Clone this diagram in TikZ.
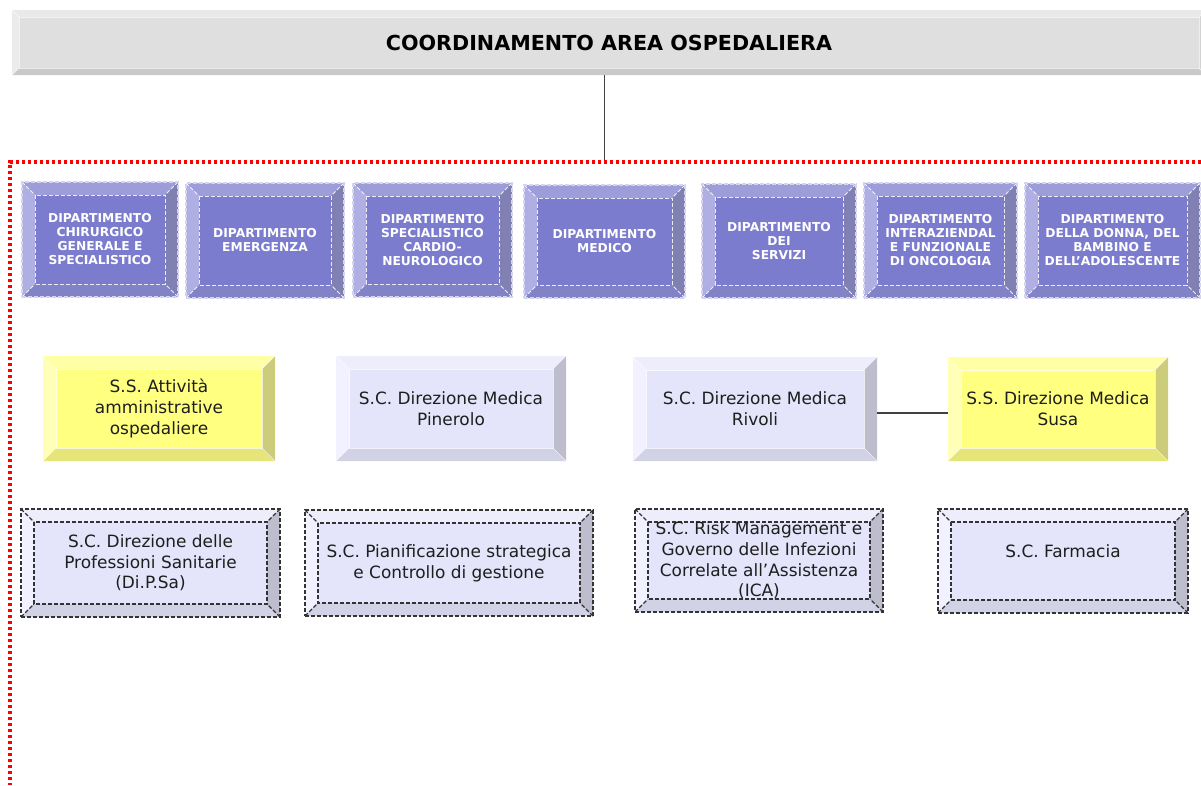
\documentclass[tikz,border=0pt]{standalone}
\usepackage{fontspec}
\setmainfont{DejaVu Sans}
\usetikzlibrary{calc}
\definecolor{tcen}{HTML}{DFDFDF}
\definecolor{ttop}{HTML}{E9E9E9}
\definecolor{tleft}{HTML}{EBEBEB}
\definecolor{tbot}{HTML}{C9C9C9}
\definecolor{tright}{HTML}{D2D2D2}
\definecolor{dcen}{HTML}{7C7CCE}
\definecolor{dtop}{HTML}{9D9DDA}
\definecolor{dleft}{HTML}{AFAFE3}
\definecolor{dbot}{HTML}{8282C6}
\definecolor{dright}{HTML}{8080B2}
\definecolor{dline}{HTML}{D4D4F0}
\definecolor{ycen}{HTML}{FFFF80}
\definecolor{ytop}{HTML}{FFFFA6}
\definecolor{yleft}{HTML}{FFFFB8}
\definecolor{ybot}{HTML}{E5E57A}
\definecolor{yright}{HTML}{CCCC7A}
\definecolor{lcen}{HTML}{E4E4FA}
\definecolor{ltop}{HTML}{EDEDFC}
\definecolor{lleft}{HTML}{F1F1FF}
\definecolor{lbot}{HTML}{D2D2E6}
\definecolor{lright}{HTML}{BDBDCE}
\definecolor{dashc}{HTML}{333333}
\definecolor{textc}{HTML}{1E1E1E}
\definecolor{linkc}{HTML}{404040}
\tikzset{
  sz/.style 2 args={minimum width=#1*0.75pt, minimum height=#2*0.75pt},
  bevelbox/.style n args={7}{fill=#6, inner sep=0pt, path picture={
    \path (path picture bounding box.north west) coordinate (bbnw)
          (path picture bounding box.north east) coordinate (bbne)
          (path picture bounding box.south west) coordinate (bbsw)
          (path picture bounding box.south east) coordinate (bbse);
    \path ([shift={(#1,#1)}]bbnw) coordinate (bbinw)
          ([shift={(-#1,#1)}]bbne) coordinate (bbine)
          ([shift={(#1,-#1)}]bbsw) coordinate (bbisw)
          ([shift={(-#1,-#1)}]bbse) coordinate (bbise);
    \fill[#2] (bbnw) -- (bbne) -- (bbine) -- (bbinw) -- cycle;
    \fill[#3] (bbnw) -- (bbsw) -- (bbisw) -- (bbinw) -- cycle;
    \fill[#4] (bbsw) -- (bbse) -- (bbise) -- (bbisw) -- cycle;
    \fill[#5] (bbne) -- (bbse) -- (bbise) -- (bbine) -- cycle;
    \draw[#7] (bbinw) rectangle (bbise);
    \draw[#7] (bbnw) -- (bbinw) (bbne) -- (bbine) (bbsw) -- (bbisw) (bbse) -- (bbise);
  }},
  titlebox/.style={bevelbox={7}{ttop}{tleft}{tbot}{tright}{tcen}{draw=white, line width=0.75pt, opacity=0.6},
    font=\fontsize{15.5}{18}\selectfont\bfseries, text=black},
  dept/.style={bevelbox={13}{dtop}{dleft}{dbot}{dright}{dcen}{draw=white, dash pattern=on 3pt off 1.5pt, line width=0.75pt, opacity=0.85},
    draw=dline, dash pattern=on 3pt off 1.5pt, line width=0.9pt,
    text=white, font=\fontsize{9.2}{10.5}\selectfont\bfseries, align=center},
  unitbox/.style={text=textc, font=\fontsize{12.7}{15.5}\selectfont, align=center},
  yel/.style={unitbox, bevelbox={13}{ytop}{yleft}{ybot}{yright}{ycen}{draw=white, line width=0.4pt, opacity=0.7}},
  lav/.style={unitbox, bevelbox={13}{ltop}{lleft}{lbot}{lright}{lcen}{draw=white, line width=0.4pt, opacity=0.7}},
  lavdash/.style={unitbox, bevelbox={13}{ltop}{lleft}{lbot}{lright}{lcen}{draw=dashc, dash pattern=on 3pt off 1.5pt, line width=0.85pt},
    draw=dashc, dash pattern=on 3pt off 1.5pt, line width=0.9pt},
  reddot/.style={draw=red, line width=2.4pt, dash pattern=on 2.4pt off 2.1pt},
  link/.style={draw=linkc, line width=0.9pt},
}
\begin{document}
\begin{tikzpicture}[x=0.75pt,y=-0.75pt]
\useasboundingbox (0,0) rectangle (1201,785);

% title
\node[titlebox, sz={1194}{65}] (title) at (609,42.5) {COORDINAMENTO AREA OSPEDALIERA};
\coordinate (frametop) at (604,162);
\draw[link, line width=0.75pt] (title.south -| frametop) -- (frametop);

% red dotted frame
\coordinate (frameR) at (1201,162);
\coordinate (frameC) at (10,162);
\coordinate (frameB) at (10,785);
\draw[reddot] (frameR) -- (frameC) -- (frameB);

% departments
\node[dept, sz={156}{115}] (d1) at (100,239.5) {DIPARTIMENTO\\CHIRURGICO\\GENERALE E\\SPECIALISTICO};
\node[dept, sz={158}{115}] (d2) at (265,240.5) {DIPARTIMENTO\\EMERGENZA};
\node[dept, sz={159}{114}] (d3) at (432.5,240) {DIPARTIMENTO\\SPECIALISTICO\\CARDIO-\\NEUROLOGICO};
\node[dept, sz={161}{113}] (d4) at (604.5,241.5) {DIPARTIMENTO\\MEDICO};
\node[dept, sz={154}{114}] (d5) at (779,241) {DIPARTIMENTO\\DEI\\SERVIZI};
\node[dept, sz={153}{115}] (d6) at (940.5,240.5) {DIPARTIMENTO\\INTERAZIENDAL\\E FUNZIONALE\\DI ONCOLOGIA};
\node[dept, sz={175}{115}] (d7) at (1112.5,240.5) {DIPARTIMENTO\\DELLA DONNA, DEL\\BAMBINO E\\DELL’ADOLESCENTE};

% second row
\node[yel, sz={232}{105}] (amm) at (159,408.5) {S.S. Attività\\amministrative\\ ospedaliere};
\node[lav, sz={230}{105}] (pin) at (451,408.5) {S.C. Direzione Medica\\Pinerolo};
\node[lav, sz={244}{104}] (riv) at (755,409) {S.C. Direzione Medica\\Rivoli};
\node[yel, sz={220}{104}] (susa) at (1058,409) {S.S. Direzione Medica\\Susa};
\draw[link] ([yshift=-3pt]riv.east) -- ([yshift=-3pt]susa.west);

% third row
\node[lavdash, sz={259}{108}] (dips) at (150.5,563) {S.C. Direzione delle\\Professioni Sanitarie\\(Di.P.Sa)};
\node[lavdash, sz={288}{106}] (pian) at (449,563) {S.C. Pianificazione strategica\\e Controllo di gestione};
\node[lavdash, sz={248}{103}] (risk) at (759,560.5) {S.C. Risk Management e\\Governo delle Infezioni\\Correlate all’Assistenza\\(ICA)};
\node[lavdash, sz={250}{104}] (farm) at (1063,561) {S.C. Farmacia\\\mbox{}};
\end{tikzpicture}
\end{document}
